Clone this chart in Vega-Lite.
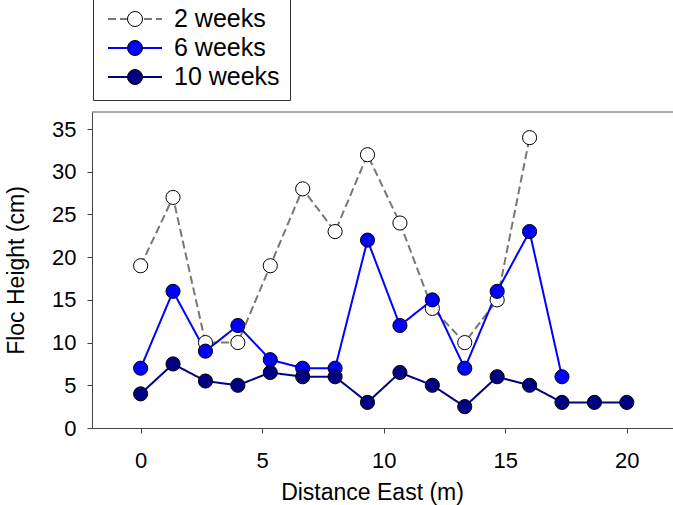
{
  "$schema": "https://vega.github.io/schema/vega-lite/v6.json",
  "width": 581,
  "height": 316,
  "autosize": "none",
  "padding": {"left": 92, "top": 112, "right": 0, "bottom": 77},
  "config": {
    "font": "Liberation Sans",
    "view": {"stroke": null},
    "axis": {
      "grid": false,
      "domainColor": "#444",
      "tickColor": "#444",
      "labelColor": "black",
      "titleColor": "black",
      "labelFontSize": 22,
      "titleFontSize": 23,
      "titleFontWeight": "normal",
      "tickSize": 5,
      "labelFont": "Liberation Sans",
      "titleFont": "Liberation Sans"
    },
    "legend": {"labelFont": "Liberation Sans"}
  },
  "data": {
    "values": [
      {"distance": 0, "height": 19, "series": "2 weeks"},
      {"distance": 1.333, "height": 27, "series": "2 weeks"},
      {"distance": 2.667, "height": 10, "series": "2 weeks"},
      {"distance": 4, "height": 10, "series": "2 weeks"},
      {"distance": 5.333, "height": 19, "series": "2 weeks"},
      {"distance": 6.667, "height": 28, "series": "2 weeks"},
      {"distance": 8, "height": 23, "series": "2 weeks"},
      {"distance": 9.333, "height": 32, "series": "2 weeks"},
      {"distance": 10.667, "height": 24, "series": "2 weeks"},
      {"distance": 12, "height": 14, "series": "2 weeks"},
      {"distance": 13.333, "height": 10, "series": "2 weeks"},
      {"distance": 14.667, "height": 15, "series": "2 weeks"},
      {"distance": 16, "height": 34, "series": "2 weeks"},
      {"distance": 0, "height": 7, "series": "6 weeks"},
      {"distance": 1.333, "height": 16, "series": "6 weeks"},
      {"distance": 2.667, "height": 9, "series": "6 weeks"},
      {"distance": 4, "height": 12, "series": "6 weeks"},
      {"distance": 5.333, "height": 8, "series": "6 weeks"},
      {"distance": 6.667, "height": 7, "series": "6 weeks"},
      {"distance": 8, "height": 7, "series": "6 weeks"},
      {"distance": 9.333, "height": 22, "series": "6 weeks"},
      {"distance": 10.667, "height": 12, "series": "6 weeks"},
      {"distance": 12, "height": 15, "series": "6 weeks"},
      {"distance": 13.333, "height": 7, "series": "6 weeks"},
      {"distance": 14.667, "height": 16, "series": "6 weeks"},
      {"distance": 16, "height": 23, "series": "6 weeks"},
      {"distance": 17.333, "height": 6, "series": "6 weeks"},
      {"distance": 0, "height": 4, "series": "10 weeks"},
      {"distance": 1.333, "height": 7.5, "series": "10 weeks"},
      {"distance": 2.667, "height": 5.5, "series": "10 weeks"},
      {"distance": 4, "height": 5, "series": "10 weeks"},
      {"distance": 5.333, "height": 6.5, "series": "10 weeks"},
      {"distance": 6.667, "height": 6, "series": "10 weeks"},
      {"distance": 8, "height": 6, "series": "10 weeks"},
      {"distance": 9.333, "height": 3, "series": "10 weeks"},
      {"distance": 10.667, "height": 6.5, "series": "10 weeks"},
      {"distance": 12, "height": 5, "series": "10 weeks"},
      {"distance": 13.333, "height": 2.5, "series": "10 weeks"},
      {"distance": 14.667, "height": 6, "series": "10 weeks"},
      {"distance": 16, "height": 5, "series": "10 weeks"},
      {"distance": 17.333, "height": 3, "series": "10 weeks"},
      {"distance": 18.667, "height": 3, "series": "10 weeks"},
      {"distance": 20, "height": 3, "series": "10 weeks"}
    ]
  },
  "layer": [
    {
      "mark": {"type": "line", "strokeWidth": 2},
      "encoding": {
        "x": {
          "field": "distance",
          "type": "quantitative",
          "scale": {"domain": [-2, 21.9], "nice": false, "zero": false},
          "axis": {"values": [0, 5, 10, 15, 20], "title": "Distance East (m)", "labelPadding": 17, "titlePadding": 10, "titleX": 280}
        },
        "y": {
          "field": "height",
          "type": "quantitative",
          "scale": {"domain": [0, 37], "nice": false},
          "axis": {"values": [0, 5, 10, 15, 20, 25, 30, 35], "title": "Floc Height (cm)", "labelPadding": 11, "titlePadding": 23}
        },
        "stroke": {
          "field": "series",
          "type": "nominal",
          "scale": {"domain": ["2 weeks", "6 weeks", "10 weeks"], "range": ["#777777", "#0000ff", "#000080"]},
          "legend": {
            "orient": "none", "legendX": 1, "legendY": -115, "title": null,
            "symbolType": "M-3.6,0L3.6,0", "symbolSize": 225, "symbolOffset": 20, "symbolStrokeWidth": 2,
            "labelOffset": 26.5, "labelFontSize": 25, "labelColor": "black",
            "padding": 9.5, "rowPadding": 3, "strokeColor": "#333"
          }
        },
        "strokeDash": {
          "field": "series",
          "type": "nominal",
          "scale": {"domain": ["2 weeks", "6 weeks", "10 weeks"], "range": [[8, 4], [1, 0], [1, 0]]},
          "legend": {
            "orient": "none", "legendX": 1, "legendY": -115, "title": null,
            "symbolType": "M-3.6,0L3.6,0", "symbolSize": 225, "symbolOffset": 20, "symbolStrokeWidth": 2,
            "labelOffset": 26.5, "labelFontSize": 25, "labelColor": "black",
            "padding": 9.5, "rowPadding": 3, "strokeColor": "#333"
          }
        }
      }
    },
    {
      "mark": {"type": "point", "shape": "circle", "filled": true, "size": 200, "stroke": "black", "strokeWidth": 1, "opacity": 1},
      "encoding": {
        "x": {"field": "distance", "type": "quantitative"},
        "y": {"field": "height", "type": "quantitative"},
        "fill": {
          "field": "series",
          "type": "nominal",
          "sort": ["2 weeks", "6 weeks", "10 weeks"],
          "scale": {"range": ["#ffffff", "#0000ff", "#000080"]},
          "legend": {
            "orient": "none", "legendX": 1, "legendY": -115, "title": null,
            "symbolType": "circle", "symbolSize": 225, "symbolOffset": 20, "symbolStrokeWidth": 1, "symbolStrokeColor": "black",
            "labelOffset": 26.5, "labelFontSize": 25, "labelColor": "black", "labelOpacity": 0,
            "padding": 9.5, "rowPadding": 3
          }
        }
      }
    },
    {
      "data": {"values": [{}]},
      "mark": {"type": "rule", "color": "#555", "strokeWidth": 1},
      "encoding": {"y": {"datum": 37}}
    }
  ]
}
